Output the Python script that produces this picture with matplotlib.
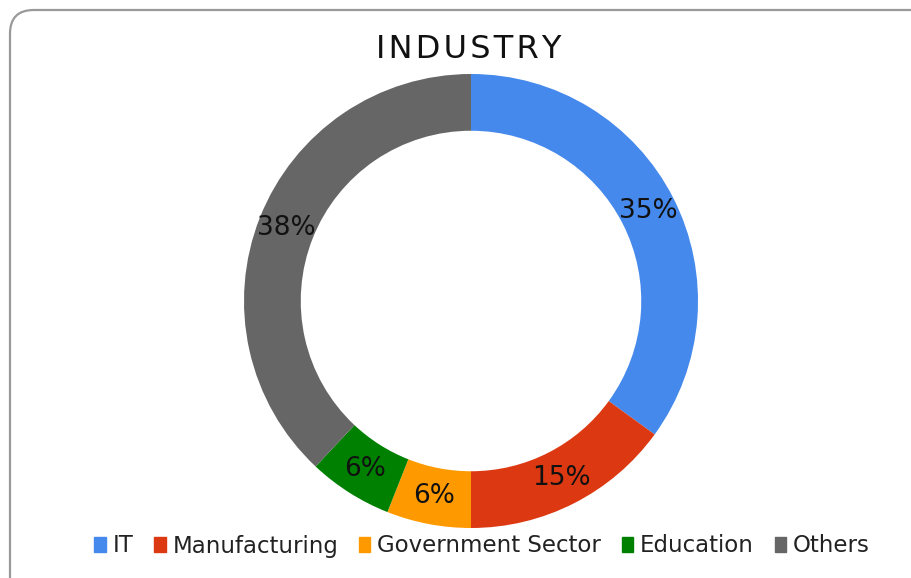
import matplotlib.pyplot as plt
import numpy as np
from matplotlib.patches import FancyBboxPatch

labels = ['IT', 'Manufacturing', 'Government Sector', 'Education', 'Others']
shares = [35, 15, 6, 6, 38]
colors = ['#4589EC', '#DC3912', '#FF9900', '#008000', '#666666']

plt.rcParams['font.family'] = 'DejaVu Sans'

fig = plt.figure(figsize=(9.12, 5.78), dpi=100)

# rounded chart frame, running off the right and bottom edges
frame = FancyBboxPatch((10 / 912, -30 / 578), 930 / 912, 598 / 578,
                       boxstyle='round,pad=0,rounding_size=0.026',
                       transform=fig.transFigure, fc='white', ec='#999999', lw=1.6,
                       mutation_aspect=912 / 578, zorder=-5)
fig.patches.append(frame)

# axes sized so outer radius ~227 px, centred at (471, 301)
r_px = 227
cx, cy = 471, 578 - 301
ax = fig.add_axes([(cx - r_px) / 912, (cy - r_px) / 578, 2 * r_px / 912, 2 * r_px / 578])
ax.patch.set_visible(False)

wedges, texts = ax.pie(shares, colors=colors, startangle=90, counterclock=False,
                       radius=1.0, wedgeprops=dict(width=0.25, edgecolor='none'))
ax.set_xlim(-1, 1)
ax.set_ylim(-1, 1)
ax.set_aspect('equal')
ax.axis('off')

for w, s in zip(wedges, shares):
    mid = np.deg2rad((w.theta1 + w.theta2) / 2)
    ax.text(0.875 * np.cos(mid), 0.875 * np.sin(mid), f'{s}%',
            ha='center', va='center', fontsize=19, color='#111111')

title = '\u200a'.join('INDUSTRY')
fig.text(469 / 912, 1 - 50 / 578, title,
         ha='center', va='center', fontsize=23, color='#111111')

# legend
handles = [plt.Rectangle((0, 0), 1, 1, color=c) for c in colors]
fig.legend(handles, labels, loc='center', bbox_to_anchor=(482 / 912, 1 - 546 / 578),
           ncol=5, frameon=False, fontsize=16.5, handlelength=0.5, handleheight=0.6,
           handletextpad=0.3, columnspacing=0.9, labelcolor='#222222')

fig.savefig('out.png', dpi=100)
